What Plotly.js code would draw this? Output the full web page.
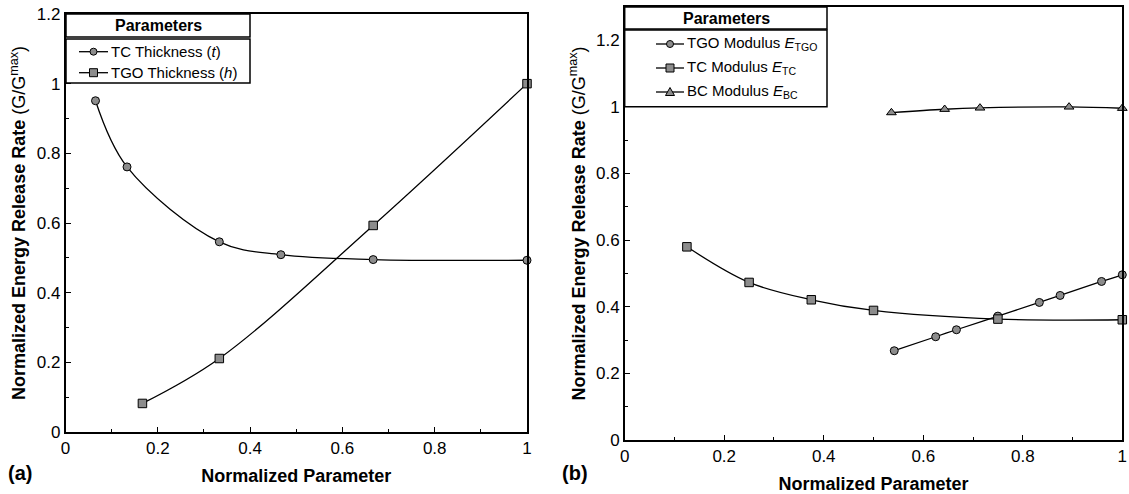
<!DOCTYPE html>
<html><head><meta charset="utf-8">
<script src="https://cdn.plot.ly/plotly-3.0.1.min.js"></script>
<style>html,body{margin:0;padding:0;background:#fff}#chart{width:1129px;height:494px}</style>
</head><body><div id="chart"></div>
<script>
// ---- data ----
const tcThickX  = [0.065, 0.1333, 0.3333, 0.4667, 0.6667, 1.0];
const tcThickY  = [0.951, 0.761, 0.546, 0.509, 0.495, 0.493];
const tgoThickX = [0.1667, 0.3333, 0.6667, 1.0];
const tgoThickY = [0.082, 0.211, 0.593, 1.0];

const tgoModX = [0.5417, 0.625, 0.6667, 0.75, 0.8333, 0.875, 0.9583, 1.0];
const tgoModY = [0.268, 0.310, 0.331, 0.372, 0.413, 0.434, 0.476, 0.496];
const tcModX  = [0.125, 0.25, 0.375, 0.5, 0.75, 1.0];
const tcModY  = [0.580, 0.473, 0.421, 0.389, 0.363, 0.361];
const bcModX  = [0.536, 0.643, 0.714, 0.893, 1.0];
const bcModY  = [0.983, 0.993, 0.997, 1.000, 0.996];

const leftNames  = ['TC Thickness (<i>t</i>)', 'TGO Thickness (<i>h</i>)'];
const rightNames = ['TGO Modulus <i>E</i><sub>TGO</sub>', 'TC Modulus <i>E</i><sub>TC</sub>', 'BC Modulus <i>E</i><sub>BC</sub>'];
const legendHeader = 'Parameters';
const panelLabels = ['(a)', '(b)'];
const xTitle = 'Normalized Parameter';
const yTitle = '<b>Normalized Energy Release Rate</b> (G/G<sup>max</sup>)';

// ---- layout helpers ----
const W = 1129, H = 494;
const FONT = 'Liberation Sans, Arial, Helvetica, sans-serif';
const px = v => v / W;
const py = v => 1 - v / H;
const GRAY = '#8c8c8c';

function trace(x, y, name, symbol, size, xa, ya) {
  return {
    x: x, y: y, name: name, xaxis: xa, yaxis: ya, type: 'scatter', mode: 'lines+markers',
    line: {color: '#000', width: 1.3, shape: 'spline', smoothing: 1},
    marker: {symbol: symbol, size: size, color: GRAY, line: {color: '#000', width: 1}},
    showlegend: false, cliponaxis: false
  };
}

const data = [
  trace(tcThickX, tcThickY, 'TC Thickness (t)', 'circle', 8, 'x', 'y'),
  trace(tgoThickX, tgoThickY, 'TGO Thickness (h)', 'square', 8.5, 'x', 'y'),
  trace(tgoModX, tgoModY, 'TGO Modulus E_TGO', 'circle', 8, 'x2', 'y2'),
  trace(tcModX, tcModY, 'TC Modulus E_TC', 'square', 8.5, 'x2', 'y2'),
  trace(bcModX, bcModY, 'BC Modulus E_BC', 'triangle-up', 8.5, 'x2', 'y2')
];

function axis(extra) {
  return Object.assign({
    showline: true, linecolor: '#000', linewidth: 1.6, mirror: true,
    showgrid: false, zeroline: false,
    ticks: 'inside', ticklen: 5, tickwidth: 1, tickcolor: '#000',
    minor: {dtick: 0.1, ticks: 'inside', ticklen: 3, tickwidth: 1, tickcolor: '#000'},
    dtick: 0.2, tick0: 0,
    tickfont: {family: FONT, size: 17, color: '#000'}
  }, extra);
}

const xl = [65.5, 527], yl = [14, 432];
const xr = [624.7, 1122.3], yr = [7, 440];

const layout = {
  width: W, height: H,
  margin: {l: 0, r: 0, t: 0, b: 0},
  paper_bgcolor: '#fff', plot_bgcolor: '#fff',
  font: {family: FONT, color: '#000'},
  showlegend: false,
  xaxis: axis({domain: [px(xl[0]), px(xl[1])], range: [0, 1], anchor: 'y',
    title: {text: '<b>' + xTitle + '</b>', font: {family: FONT, size: 18}, standoff: 12}}),
  yaxis: axis({domain: [py(yl[1]), py(yl[0])], range: [0, 1.2], anchor: 'x',
    title: {text: yTitle, font: {family: FONT, size: 18}, standoff: 6}}),
  xaxis2: axis({domain: [px(xr[0]), px(xr[1])], range: [0, 1], anchor: 'y2',
    title: {text: '<b>' + xTitle + '</b>', font: {family: FONT, size: 18}, standoff: 12}}),
  yaxis2: axis({domain: [py(yr[1]), py(yr[0])], range: [0, 1.3], anchor: 'x2',
    title: {text: yTitle, font: {family: FONT, size: 18}, standoff: 6}}),
  shapes: [],
  annotations: []
};

// ---- hand-drawn legend boxes ----
function rect(x0, y0, x1, y1) {
  layout.shapes.push({type: 'rect', xref: 'paper', yref: 'paper',
    x0: px(x0), x1: px(x1), y0: py(y1), y1: py(y0),
    line: {color: '#000', width: 1.5}, fillcolor: '#fff', layer: 'above'});
}
function text(x, y, t, size, anchor) {
  layout.annotations.push({xref: 'paper', yref: 'paper', x: px(x), y: py(y), text: t,
    showarrow: false, xanchor: anchor || 'left', yanchor: 'middle',
    font: {family: FONT, size: size, color: '#000'}});
}
function sample(x0, x1, y, symbol) {
  layout.shapes.push({type: 'line', xref: 'paper', yref: 'paper',
    x0: px(x0), x1: px(x1), y0: py(y), y1: py(y), line: {color: '#000', width: 1.3}, layer: 'above'});
  const cx = (x0 + x1) / 2, r = 3.5;
  const style = {line: {color: '#000', width: 1}, fillcolor: GRAY, layer: 'above', xref: 'paper', yref: 'paper'};
  if (symbol === 'circle') {
    layout.shapes.push(Object.assign({type: 'circle', x0: px(cx - r), x1: px(cx + r), y0: py(y + r), y1: py(y - r)}, style));
  } else if (symbol === 'square') {
    layout.shapes.push(Object.assign({type: 'rect', x0: px(cx - 4), x1: px(cx + 4), y0: py(y + 4), y1: py(y - 4)}, style));
  } else {
    const p = `M ${px(cx - 4.5)} ${py(y + 3.5)} L ${px(cx + 4.5)} ${py(y + 3.5)} L ${px(cx)} ${py(y - 4.5)} Z`;
    layout.shapes.push(Object.assign({type: 'path', path: p}, style));
  }
}

// left legend
rect(66, 14, 250, 37);
rect(66, 39, 250, 83);
text(158, 25.5, '<b>' + legendHeader + '</b>', 16, 'center');
const leftSyms = ['circle', 'square'];
const leftRows = [51.7, 72.7];
leftNames.forEach((n, i) => { sample(79, 108, leftRows[i], leftSyms[i]); text(109, leftRows[i], n, 15); });

// right legend
rect(624.7, 7, 827, 29);
rect(624.7, 30, 827, 106.7);
text(726, 18, '<b>' + legendHeader + '</b>', 16, 'center');
const rightSyms = ['circle', 'square', 'triangle'];
const rightRows = [44, 68, 92];
rightNames.forEach((n, i) => { sample(656, 684, rightRows[i], rightSyms[i]); text(685, rightRows[i], n, 15); });

// panel labels
text(20, 473, '<b>' + panelLabels[0] + '</b>', 20, 'center');
text(575, 473, '<b>' + panelLabels[1] + '</b>', 20, 'center');

Plotly.newPlot('chart', data, layout, {displayModeBar: false, staticPlot: true});
</script>
</body></html>
